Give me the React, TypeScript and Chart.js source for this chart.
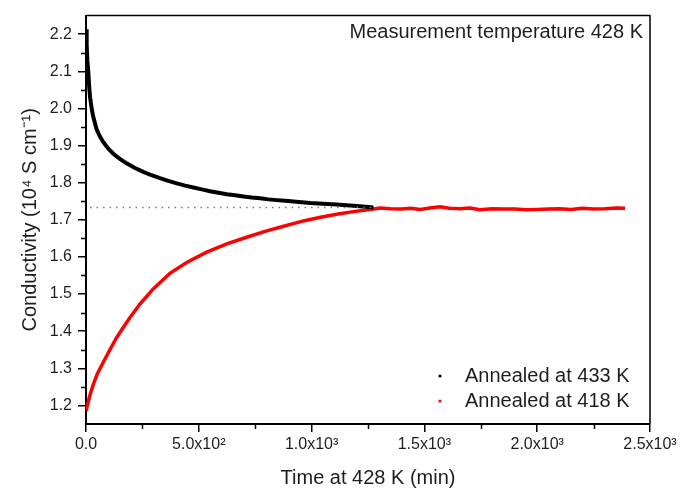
import React, { useEffect, useRef } from 'react';
import { Chart, registerables } from 'chart.js';

Chart.register(...registerables);

const seriesNames = ['Annealed at 433 K', 'Annealed at 418 K'];
const seriesColors = ['#000000', '#ff0000'];

const blackTime = [0, 3, 6, 10, 14, 18, 25, 32, 47, 62, 77, 98, 121, 150, 180, 215, 254, 290, 328, 365, 402, 440, 476, 513, 550, 587, 624, 661, 698, 735, 772, 809, 846, 883, 920, 957, 994, 1050, 1111, 1155, 1200, 1240, 1274];
const blackCond = [2.213, 2.17, 2.13, 2.1, 2.06, 2.03, 2.0, 1.978, 1.944, 1.924, 1.909, 1.892, 1.878, 1.864, 1.852, 1.84, 1.829, 1.82, 1.812, 1.805, 1.798, 1.792, 1.787, 1.782, 1.777, 1.773, 1.769, 1.766, 1.763, 1.76, 1.758, 1.755, 1.753, 1.751, 1.749, 1.747, 1.745, 1.743, 1.741, 1.739, 1.737, 1.735, 1.733];

const redTime = [0, 8, 18, 32, 50, 77, 106, 136, 165, 195, 239, 298, 372, 446, 535, 624, 712, 801, 860, 963, 1040, 1111, 1185, 1259, 1303, 1350, 1400, 1440, 1481, 1525, 1569, 1610, 1658, 1702, 1747, 1800, 1850, 1900, 1950, 2000, 2050, 2100, 2150, 2200, 2250, 2300, 2350, 2390];
const redCond = [1.185, 1.205, 1.229, 1.256, 1.285, 1.317, 1.35, 1.383, 1.41, 1.437, 1.473, 1.514, 1.556, 1.585, 1.613, 1.635, 1.653, 1.67, 1.68, 1.697, 1.707, 1.715, 1.722, 1.728, 1.732, 1.73, 1.729, 1.731, 1.728, 1.732, 1.735, 1.731, 1.73, 1.732, 1.727, 1.73, 1.729, 1.729, 1.727, 1.728, 1.729, 1.73, 1.728, 1.731, 1.729, 1.73, 1.732, 1.731];

const plateauTime = [18, 1275];
const plateauCond = [1.733, 1.733];

const xTickValues = [0, 500, 1000, 1500, 2000, 2500];
const xTickLabels = ['0.0', '5.0x10²', '1.0x10³', '1.5x10³', '2.0x10³', '2.5x10³'];
const xMinorTicks = [250, 750, 1250, 1750, 2250];
const yTickValues = [1.2, 1.3, 1.4, 1.5, 1.6, 1.7, 1.8, 1.9, 2.0, 2.1, 2.2];
const yTickLabels = ['1.2', '1.3', '1.4', '1.5', '1.6', '1.7', '1.8', '1.9', '2.0', '2.1', '2.2'];
const yMinorTicks = [1.25, 1.35, 1.45, 1.55, 1.65, 1.75, 1.85, 1.95, 2.05, 2.15];

const chartTitle = 'Measurement temperature 428 K';
const xTitle = 'Time at 428 K (min)';
const yTitle = 'Conductivity (10⁴ S cm⁻¹)';

const FONT = '"Liberation Sans", Arial, sans-serif';
const TEXT = '#1e1e1e';

const decorPlugin = {
  id: 'decor',
  afterDraw(chart: any) {
    const { ctx, chartArea } = chart;
    const xs = chart.scales.x;
    const ys = chart.scales.y;
    ctx.save();
    ctx.strokeStyle = '#000';
    ctx.lineWidth = 1.5;
    ctx.beginPath();
    ctx.moveTo(chartArea.left, chartArea.top);
    ctx.lineTo(chartArea.right, chartArea.top);
    ctx.lineTo(chartArea.right, chartArea.bottom);
    ctx.stroke();
    ctx.beginPath();
    xMinorTicks.forEach((v) => {
      const px = Math.round(xs.getPixelForValue(v)) + 0.5;
      ctx.moveTo(px, chartArea.bottom);
      ctx.lineTo(px, chartArea.bottom + 5);
    });
    yMinorTicks.forEach((v) => {
      const py = Math.round(ys.getPixelForValue(v)) + 0.5;
      ctx.moveTo(chartArea.left, py);
      ctx.lineTo(chartArea.left - 5, py);
    });
    ctx.stroke();
    ctx.fillStyle = TEXT;
    ctx.font = `20px ${FONT}`;
    ctx.textAlign = 'right';
    ctx.textBaseline = 'alphabetic';
    ctx.fillText(chartTitle, chartArea.right - 7, chartArea.top + 22);
    const lx = chartArea.right - 210;
    const baselines = [chartArea.bottom - 42, chartArea.bottom - 17];
    seriesNames.forEach((name, i) => {
      ctx.fillStyle = seriesColors[i];
      ctx.beginPath();
      ctx.arc(lx, baselines[i] - 6, 1.6, 0, Math.PI * 2);
      ctx.fill();
      ctx.fillStyle = TEXT;
      ctx.textAlign = 'left';
      ctx.fillText(name, lx + 25, baselines[i]);
    });
    ctx.restore();
  },
};

export default function App() {
  const ref = useRef<HTMLCanvasElement | null>(null);
  useEffect(() => {
    document.body.style.margin = '0';
    if (!ref.current) return;
    const chart = new Chart(ref.current, {
      type: 'line',
      data: {
        datasets: [
          {
            label: 'plateau',
            data: plateauTime.map((t, i) => ({ x: t, y: plateauCond[i] })),
            borderColor: '#777',
            borderWidth: 1.5,
            borderDash: [1.5, 5],
            pointRadius: 0,
            fill: false,
          },
          {
            label: seriesNames[0],
            data: blackTime.map((t, i) => ({ x: t, y: blackCond[i] })),
            borderColor: seriesColors[0],
            borderWidth: 4,
            pointRadius: 0,
            tension: 0,
            fill: false,
          },
          {
            label: seriesNames[1],
            data: redTime.map((t, i) => ({ x: t, y: redCond[i] })),
            borderColor: seriesColors[1],
            borderWidth: 3.5,
            pointRadius: 0,
            tension: 0,
            fill: false,
          },
        ],
      },
      options: {
        animation: false,
        responsive: false,
        layout: { padding: { top: 8, right: 42, left: 0, bottom: 0 } },
        plugins: { legend: { display: false }, tooltip: { enabled: false } },
        scales: {
          x: {
            type: 'linear',
            min: 0,
            max: 2500,
            afterBuildTicks: (s: any) => {
              s.ticks = xTickValues.map((v) => ({ value: v }));
            },
            afterFit: (s: any) => {
              s.height = 69;
            },
            ticks: {
              autoSkip: false,
              maxRotation: 0,
              padding: 3,
              color: TEXT,
              font: { family: FONT, size: 16 },
              callback: (_v: any, i: number) => xTickLabels[i],
            },
            grid: { drawOnChartArea: false, drawTicks: true, tickLength: 8, color: '#000', lineWidth: 1.5 },
            border: { display: true, color: '#000', width: 2 },
            title: {
              display: true,
              text: xTitle,
              color: TEXT,
              font: { family: FONT, size: 20 },
              padding: { top: 0, bottom: 3 },
            },
          },
          y: {
            type: 'linear',
            min: 1.15,
            max: 2.25,
            afterBuildTicks: (s: any) => {
              s.ticks = yTickValues.map((v) => ({ value: v }));
            },
            afterFit: (s: any) => {
              s.width = 86;
            },
            ticks: {
              autoSkip: false,
              padding: 6,
              color: TEXT,
              font: { family: FONT, size: 16 },
              callback: (_v: any, i: number) => yTickLabels[i],
            },
            grid: { drawOnChartArea: false, drawTicks: true, tickLength: 8, color: '#000', lineWidth: 1.5 },
            border: { display: true, color: '#000', width: 2 },
            title: {
              display: true,
              text: yTitle,
              color: TEXT,
              font: { family: FONT, size: 20 },
              padding: { top: 18, bottom: 0 },
            },
          },
        },
      },
      plugins: [decorPlugin],
    } as any);
    return () => chart.destroy();
  }, []);
  return (
    <div style={{ width: 692, height: 493 }}>
      <canvas ref={ref} width={692} height={493} style={{ display: 'block' }} />
    </div>
  );
}
